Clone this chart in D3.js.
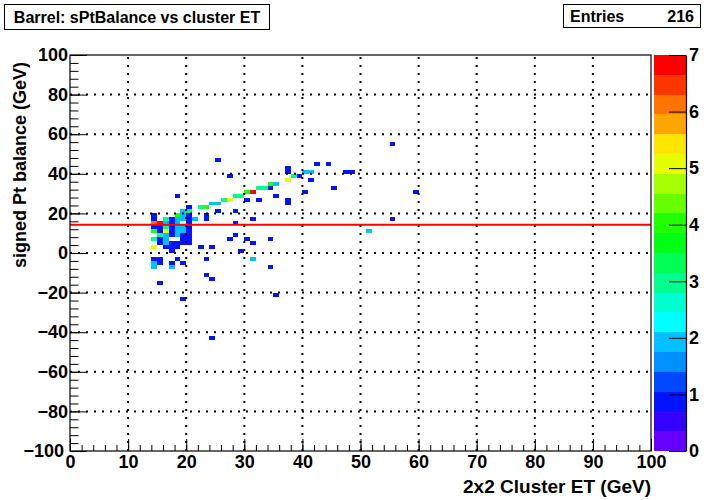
<!DOCTYPE html>
<html><head><meta charset="utf-8">
<script src="https://cdn.jsdelivr.net/npm/d3@7"></script>
<style>body{margin:0;background:#fff}svg{display:block}text{font-family:"Liberation Sans",Arial,sans-serif;font-weight:bold}</style>
</head><body><div id="c"></div>
<script>
const titleText = "Barrel: sPtBalance vs cluster ET";
const statsLabel = "Entries";
const statsValue = "216";
const xTitle = "2x2 Cluster ET (GeV)";
const yTitle = "signed Pt balance (GeV)";
const xTicks = [0,10,20,30,40,50,60,70,80,90,100];
const yTicks = [-100,-80,-60,-40,-20,0,20,40,60,80,100];
const zTicks = [0,1,2,3,4,5,6,7];
const fitLevel = 14.3;
// cells: [x bin low edge (GeV), y bin low edge (GeV), entries]; bins are 1 GeV x 2 GeV
const cells = [
[25,46,1],[27,38,1],[18,28,1],[35,28,1],[37,40,1],[37,42,1],[42,44,1],[44,44,1],[47,40,1],[48,40,1],
[40,40,2],[41,40,2],[39,38,1],[38,38,3],[37,36,5],[41,36,1],[34,34,4],[35,34,2],[32,32,3],[33,32,3],
[34,32,1],[45,32,1],[40,30,1],[59,30,1],[30,30,4],[31,30,7],[28,28,3],[29,28,3],[26,26,3],[27,26,5],
[30,26,1],[32,26,1],[37,24,1],[37,26,1],[24,24,2],[25,24,2],[55,54,1],[55,16,1],[51,10,2],[22,22,3],
[23,22,4],[20,22,1],[20,20,3],[19,20,2],[25,20,1],[28,20,1],
[14,18,1],[18,18,4],[19,18,2],[20,18,1],[23,18,1],
[14,16,1],[16,16,3],[17,16,1],[18,16,2],[19,16,2],[20,16,1],[21,16,2],[23,16,1],[31,16,1],
[14,14,6],[15,14,7],[16,14,2],[17,14,1],[18,14,2],[20,14,1],[28,14,1],
[14,12,1],[15,12,1],[16,12,3],[17,12,1],[18,12,2],[19,12,2],[20,12,1],
[14,10,4],[15,10,1],[16,10,5],[17,10,1],[18,10,2],[19,10,2],[20,10,1],
[15,8,3],[16,8,2],[17,8,1],[18,8,2],[19,8,1],[20,8,1],[28,8,1],
[14,6,3],[15,6,1],[16,6,2],[19,6,1],[20,6,1],[27,6,1],[30,6,1],[34,6,1],
[15,4,1],[16,4,2],[17,4,1],[18,4,1],[19,4,1],[20,4,1],[31,4,1],
[14,2,5],[16,2,1],[17,2,1],[18,2,1],[22,2,1],[24,2,1],
[17,0,1],[29,0,1],
[14,-4,1],[15,-4,1],[18,-4,1],[23,-4,1],[31,-4,2],
[14,-6,2],[15,-6,1],[17,-6,1],[19,-6,1],
[14,-8,2],[17,-8,2],[34,-8,1],
[23,-12,1],[24,-14,1],[15,-16,1],[19,-24,1],[35,-22,1],[24,-44,1]
];
const paletteColors = ["#6600ff","#3300ff","#0014ff","#0048ff","#0090ff","#00c0ff","#00ffff","#00ffd0","#00ff90","#00ff55",
"#00ff14","#22ff00","#66ff00","#a5ff00","#e6ff00","#ffe600","#ffa500","#ff7300","#ff3500","#ff0000"];

const W=715,H=500, L=70,R=651,T=55,B=451;
const svg=d3.select("#c").append("svg").attr("width",W).attr("height",H);
const x=d3.scaleLinear().domain([0,100]).range([L,R]);
const y=d3.scaleLinear().domain([-100,100]).range([B,T]);
const zmax=d3.max(zTicks);
const nLev=paletteColors.length;
const colorOf=c=>paletteColors[Math.min(nLev-1,Math.floor(c*nLev/zmax))];

// cells
svg.append("g").selectAll("rect").data(cells).join("rect")
 .attr("x",d=>x(d[0])).attr("width",d=>x(d[0]+1)-x(d[0]))
 .attr("y",d=>y(d[1]+2)).attr("height",d=>y(d[1])-y(d[1]+2))
 .attr("fill",d=>colorOf(d[2])).attr("shape-rendering","crispEdges");

// grid
const grid=svg.append("g").attr("stroke","#000").attr("stroke-width",2).attr("stroke-dasharray","2,6");
grid.selectAll(".gx").data(xTicks.slice(1,-1)).join("line")
 .attr("x1",d=>x(d)).attr("x2",d=>x(d)).attr("y1",B).attr("y2",T);
grid.selectAll(".gy").data(yTicks.slice(1,-1)).join("line")
 .attr("y1",d=>y(d)).attr("y2",d=>y(d)).attr("x1",L).attr("x2",R);

// fit line
svg.append("line").attr("x1",x(0)).attr("x2",x(100)).attr("y1",y(fitLevel)).attr("y2",y(fitLevel))
 .attr("stroke","#ff0000").attr("stroke-width",2);

// frame
svg.append("rect").attr("x",L).attr("y",T).attr("width",R-L).attr("height",B-T)
 .attr("fill","none").attr("stroke","#000").attr("stroke-width",1.2);

// axes
const fs="18px";
const xMinor=d3.range(0,101,2);
svg.append("g").attr("transform",`translate(0,${B})`)
 .call(d3.axisBottom(x).tickValues(xMinor).tickSize(-6).tickFormat(""))
 .call(g=>g.select(".domain").remove());
svg.append("g").attr("transform",`translate(0,${B})`)
 .call(d3.axisBottom(x).tickValues(xTicks).tickSizeInner(-12).tickSizeOuter(0).tickPadding(4))
 .call(g=>g.select(".domain").remove())
 .call(g=>g.selectAll("text").attr("font-size",fs).attr("fill","#000"));
const yMinor=d3.range(-100,101,4);
svg.append("g").attr("transform",`translate(${L},0)`)
 .call(d3.axisLeft(y).tickValues(yMinor).tickSize(-8.5).tickFormat(""))
 .call(g=>g.select(".domain").remove());
svg.append("g").attr("transform",`translate(${L},0)`)
 .call(d3.axisLeft(y).tickValues(yTicks).tickSizeInner(-17).tickSizeOuter(0).tickPadding(2))
 .call(g=>g.select(".domain").remove())
 .call(g=>g.selectAll("text").attr("font-size",fs).attr("fill","#000"))
 .call(g=>g.selectAll(".tick").filter(d=>d===-100).select("text").attr("x",-6));

// palette
const PL=654, PR=686;
const z=d3.scaleLinear().domain([0,zmax]).range([B,T]);
svg.append("g").selectAll("rect").data(paletteColors).join("rect")
 .attr("x",PL).attr("width",PR-PL)
 .attr("y",(d,i)=>z((i+1)*zmax/nLev)).attr("height",(d,i)=>z(i*zmax/nLev)-z((i+1)*zmax/nLev))
 .attr("fill",d=>d).attr("shape-rendering","crispEdges");
svg.append("g").attr("transform",`translate(${PR},0)`)
 .call(d3.axisRight(z).tickValues(zTicks).tickFormat(d3.format("d")).tickSizeInner(-17).tickSizeOuter(0).tickPadding(3))
 .call(g=>g.select(".domain").attr("stroke-width",1.2))
 .call(g=>g.selectAll("text").attr("font-size",fs).attr("fill","#000"));

// axis titles
svg.append("text").attr("x",R).attr("y",493).attr("text-anchor","end").attr("font-size","19px").text(xTitle);
svg.append("text").attr("transform",`translate(26,${T+7}) rotate(-90)`).attr("text-anchor","end").attr("font-size","18px").text(yTitle);

// title box
svg.append("rect").attr("x",4.5).attr("y",4.5).attr("width",265).attr("height",25).attr("fill","#fff").attr("stroke","#000");
svg.append("text").attr("x",137).attr("y",23).attr("text-anchor","middle").attr("font-size","16px").text(titleText);
// stats box
svg.append("rect").attr("x",563.5).attr("y",4.5).attr("width",137).attr("height",23).attr("fill","#fff").attr("stroke","#000");
svg.append("text").attr("x",570).attr("y",22).attr("font-size","16px").text(statsLabel);
svg.append("text").attr("x",694).attr("y",22).attr("text-anchor","end").attr("font-size","16px").text(statsValue);
</script></body></html>
